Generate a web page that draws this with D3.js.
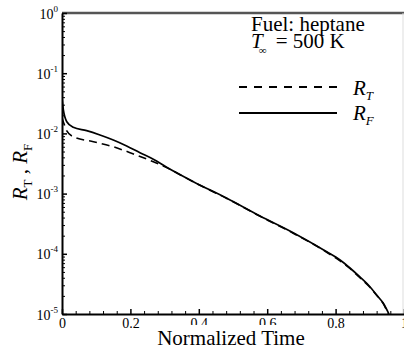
<!DOCTYPE html>
<html>
<head>
<meta charset="utf-8">
<script src="https://cdn.jsdelivr.net/npm/d3@7"></script>
<style>
body{margin:0;background:#fff;}
text{font-family:"Liberation Serif","Times New Roman",serif;fill:#000;}
</style>
</head>
<body>
<div id="chart-area"></div>
<script>
// normalized time and radius ratios
var timeF=[0,0.004,0.014,0.033,0.072,0.111,0.150,0.189,0.228,0.267,0.306,0.384,0.482,0.579,0.676,0.774,0.813,0.842,0.871,0.901,0.920,0.939,0.956];
var rF=[0.0389,0.0245,0.0156,0.0126,0.0111,0.0094,0.00776,0.00618,0.00478,0.00372,0.00274,0.00158,8.36e-4,4.25e-4,2.24e-4,1.08e-4,7.9e-5,5.81e-5,4.12e-5,2.81e-5,2.07e-5,1.52e-5,1.0e-5];
var timeT=[0,0.004,0.014,0.033,0.092,0.150,0.209,0.267,0.306,0.384,0.482,0.579,0.676,0.774,0.842,0.871,0.901,0.920,0.939,0.954];
var rT=[0.018,0.0155,0.011,0.0088,0.00728,0.0060,0.00455,0.00339,0.00270,0.00156,8.3e-4,4.2e-4,2.2e-4,1.06e-4,5.7e-5,4.0e-5,2.75e-5,2.05e-5,1.5e-5,1.0e-5];

var xMajor=[0,0.2,0.4,0.6,0.8,1];
var xTickLabels=["0","0.2","0.4","0.6","0.8","1"];
var yMajor=[1,1e-1,1e-2,1e-3,1e-4,1e-5];
var yTickExp=["0","-1","-2","-3","-4","-5"];

var serif="'Liberation Serif','Times New Roman',serif";
var width=404, height=353;
var svg=d3.select("#chart-area").append("svg")
    .attr("width",width)
    .attr("height",height)
    .style("display","block");

var x=d3.scaleLinear().domain([0,1]).range([62,404]);
var y=d3.scaleLog().domain([1e-5,1]).range([314,13]);

svg.append("clipPath").attr("id","clip")
    .append("rect")
    .attr("x",62).attr("y",13)
    .attr("width",342).attr("height",301);

// frame top + right
svg.append("line")
    .attr("x1",x(0)).attr("x2",x(1))
    .attr("y1",y(1)).attr("y2",y(1))
    .attr("stroke","#555").attr("stroke-width",2.5);
svg.append("line")
    .attr("x1",x(1)-1).attr("x2",x(1)-1)
    .attr("y1",y(1)).attr("y2",y(1e-5))
    .attr("stroke","#ddd").attr("stroke-width",1);

// minor ticks
var yMinor=[];
for(var e=-5;e<0;e++){
    for(var k=2;k<10;k++){ yMinor.push(k*Math.pow(10,e)); }
}
var xMinor=d3.range(0,1.0001,0.04).filter(function(d){
    return Math.abs(d/0.2-Math.round(d/0.2))>1e-6;
});

svg.append("g")
    .attr("transform","translate("+x(0)+",0)")
    .call(d3.axisLeft(y).tickValues(yMinor).tickSize(-3).tickSizeOuter(0).tickFormat(""))
    .call(function(g){ g.select(".domain").remove(); g.selectAll("line").attr("stroke-width",1); });

svg.append("g")
    .attr("transform","translate(0,"+y(1e-5)+")")
    .call(d3.axisBottom(x).tickValues(xMinor).tickSize(-3).tickSizeOuter(0).tickFormat(""))
    .call(function(g){ g.select(".domain").remove(); g.selectAll("line").attr("stroke-width",1); });

// major y axis
var yAxisGroup=svg.append("g")
    .attr("transform","translate("+x(0)+",0)")
    .call(d3.axisLeft(y).tickValues(yMajor).tickSize(-5).tickSizeOuter(0).tickFormat(""))
    .attr("font-family",serif);
yAxisGroup.select(".domain").attr("stroke-width",2);
yAxisGroup.selectAll("line").attr("stroke-width",1.5);

yAxisGroup.selectAll(".tick").append("text")
    .attr("x",-4)
    .attr("y",5)
    .attr("text-anchor","end")
    .attr("font-family",serif)
    .attr("font-size","14px")
    .each(function(d,i){
        var t=d3.select(this);
        t.append("tspan").text("10");
        t.append("tspan").attr("dy",-7).attr("font-size","9px").text(yTickExp[i]);
    });

// major x axis
var xAxisGroup=svg.append("g")
    .attr("transform","translate(0,"+y(1e-5)+")")
    .call(d3.axisBottom(x).tickValues(xMajor).tickSize(-5).tickSizeOuter(0).tickPadding(4)
        .tickFormat(function(d,i){ return xTickLabels[i]; }))
    .attr("font-family",serif);
xAxisGroup.select(".domain").attr("stroke-width",2);
xAxisGroup.selectAll("line").attr("stroke-width",1.5);
xAxisGroup.selectAll("text")
    .attr("font-family",serif)
    .attr("font-size","14px")
    .attr("fill","#000");

// curves
var line=d3.line()
    .x(function(d){ return x(d[0]); })
    .y(function(d){ return y(d[1]); })
    .curve(d3.curveMonotoneX);

var plot=svg.append("g").attr("clip-path","url(#clip)");
plot.append("path")
    .datum(timeT.map(function(t,i){ return [t,rT[i]]; }))
    .attr("d",line)
    .attr("fill","none")
    .attr("stroke","#000")
    .attr("stroke-width",1.6)
    .attr("stroke-dasharray","8,5");
plot.append("path")
    .datum(timeF.map(function(t,i){ return [t,rF[i]]; }))
    .attr("d",line)
    .attr("fill","none")
    .attr("stroke","#000")
    .attr("stroke-width",1.7);

// x title with white box (hides part of the tick labels, as in the original)
var titleBox=svg.append("rect").attr("fill","#fff");
var xTitle=svg.append("text")
    .attr("x",231)
    .attr("y",345)
    .attr("text-anchor","middle")
    .attr("font-size","21px")
    .text("Normalized Time");
var bb=xTitle.node().getBBox();
titleBox.attr("x",bb.x-3).attr("y",bb.y-1)
    .attr("width",bb.width+6).attr("height",height-bb.y+1);

// y title
var yTitle=svg.append("text")
    .attr("transform","translate(27,172) rotate(-90)")
    .attr("text-anchor","middle")
    .attr("font-size","21px");
yTitle.append("tspan").attr("font-style","italic").text("R");
yTitle.append("tspan").attr("font-size","13px").attr("dy",5).text("T");
yTitle.append("tspan").attr("dy",-5).text(" , ");
yTitle.append("tspan").attr("font-style","italic").text("R");
yTitle.append("tspan").attr("font-size","13px").attr("dy",5).text("F");

// legend
svg.append("text")
    .attr("x",251).attr("y",31)
    .attr("font-size","21px")
    .text("Fuel: heptane");
var tInf=svg.append("text")
    .attr("x",251).attr("y",48)
    .attr("font-size","21px");
tInf.append("tspan").attr("font-style","italic").text("T");
tInf.append("tspan").attr("font-size","11px").attr("dy",6).attr("dx",-4).text("\u221e");
tInf.append("tspan").attr("dy",-6).attr("dx",4).text(" = 500 K");

var legendItems=[{label:"T",dash:"8,7",y:87,ty:95},{label:"F",dash:null,y:113,ty:120}];
legendItems.forEach(function(d){
    svg.append("line")
        .attr("x1",239).attr("x2",337)
        .attr("y1",d.y).attr("y2",d.y)
        .attr("stroke","#000")
        .attr("stroke-width",2)
        .attr("stroke-dasharray",d.dash);
    var t=svg.append("text")
        .attr("x",353).attr("y",d.ty)
        .attr("font-size","21px")
        .attr("font-style","italic");
    t.append("tspan").text("R");
    t.append("tspan").attr("font-size","13px").attr("dy",5).text(d.label);
});
</script>
</body>
</html>
